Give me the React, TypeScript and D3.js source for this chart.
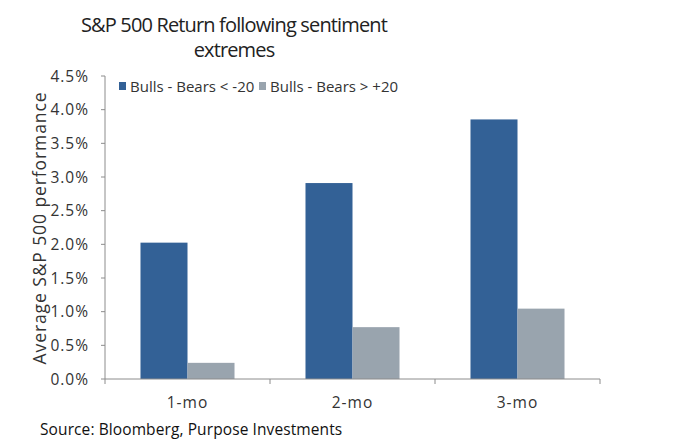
import React from "react";
import * as d3 from "d3";

const categories = ["1-mo", "2-mo", "3-mo"];
const seriesNames = ["Bulls - Bears < -20", "Bulls - Bears > +20"];
const bearsExtreme = [2.025, 2.91, 3.855];
const bullsExtreme = [0.24, 0.77, 1.045];
const yTicks = [0, 0.5, 1, 1.5, 2, 2.5, 3, 3.5, 4, 4.5];
const colors = ["#336196", "#99A4AE"];

export default function App() {
  const W = 684, H = 447;
  const left = 105, right = 600, top = 76, bottom = 379;
  const x = d3.scaleBand<string>().domain(categories).range([left, right]).paddingInner(0).paddingOuter(0);
  const inner = d3.scaleBand<number>().domain([0, 1]).range([0, x.bandwidth()]).paddingOuter(0.755).paddingInner(0);
  const y = d3.scaleLinear().domain([0, 4.5]).range([bottom, top]);
  const series = [bearsExtreme, bullsExtreme];
  const font = "'Open Sans', 'Liberation Sans', sans-serif";
  const axisColor = "#8c8c8c";
  const legendX = [119, 259];
  return (
    <svg width={W} height={H} style={{ position: "absolute", left: 0, top: 0, background: "#fff" }}>
      <g fontFamily={font} fill="#222">
        <text x={234} y={32} textAnchor="middle" fontSize={20} letterSpacing={-0.85}>S&amp;P 500 Return following sentiment</text>
        <text x={234} y={57} textAnchor="middle" fontSize={20} letterSpacing={-0.85}>extremes</text>
      </g>
      {series.map((vals, si) =>
        categories.map((c, ci) => (
          <rect
            key={si + "-" + ci}
            x={(x(c) as number) + (inner(si) as number)}
            y={y(vals[ci])}
            width={inner.bandwidth()}
            height={bottom - y(vals[ci])}
            fill={colors[si]}
          />
        ))
      )}
      <line x1={left} x2={left} y1={top} y2={bottom} stroke={axisColor} />
      <line x1={left} x2={right} y1={bottom} y2={bottom} stroke={axisColor} />
      {yTicks.map((t) => (
        <g key={t}>
          <line x1={left - 4} x2={left} y1={y(t)} y2={y(t)} stroke={axisColor} />
          <text x={89} y={y(t) + 5.5} textAnchor="end" fontSize={15.5} letterSpacing={1} fontFamily={font} fill="#333">
            {t.toFixed(1) + "%"}
          </text>
        </g>
      ))}
      {[...categories.map((c) => x(c) as number), right].map((p, i) => (
        <line key={i} x1={p} x2={p} y1={bottom} y2={bottom + 5} stroke={axisColor} />
      ))}
      {categories.map((c) => (
        <text key={c} x={(x(c) as number) + x.bandwidth() / 2} y={408} textAnchor="middle" fontSize={15.5} letterSpacing={1} fontFamily={font} fill="#333">
          {c}
        </text>
      ))}
      <text
        transform={`translate(46, 228) rotate(-90)`}
        textAnchor="middle"
        fontSize={17.5}
        letterSpacing={0.9}
        fontFamily={font}
        fill="#333"
      >
        Average S&amp;P 500 performance
      </text>
      {seriesNames.map((n, i) => (
        <g key={n}>
          <rect x={legendX[i]} y={82} width={7} height={8} fill={colors[i]} />
          <text x={legendX[i] + 11} y={92} fontSize={15} fontFamily={font} fill="#333">{n}</text>
        </g>
      ))}
      <text x={40} y={435} fontSize={15.5} letterSpacing={0.1} fontFamily={font} fill="#111">
        Source: Bloomberg, Purpose Investments
      </text>
    </svg>
  );
}
